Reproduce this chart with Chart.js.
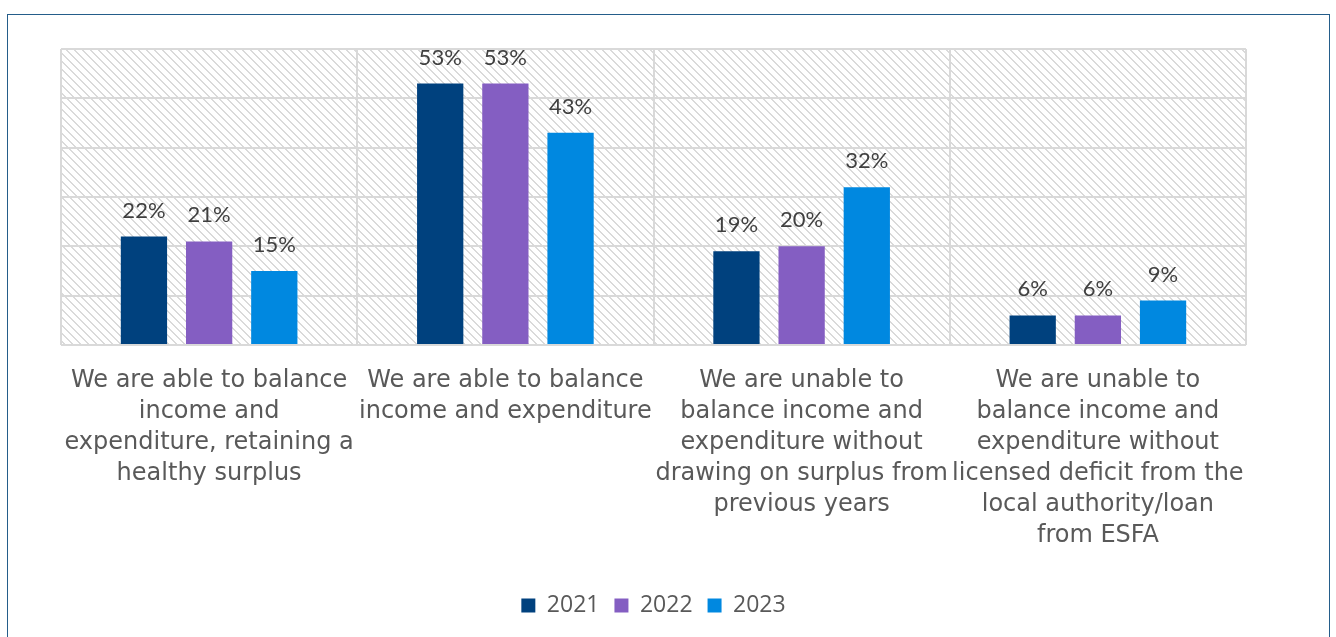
<!DOCTYPE html>
<html>
<head>
<meta charset="utf-8">
<script src="https://cdn.jsdelivr.net/npm/chart.js@4/dist/chart.umd.min.js"></script>
<style>
  html, body { margin: 0; padding: 0; background: #fff; }
  .frame {
    position: absolute; left: 7px; top: 14px; width: 1323px; height: 640px;
    border: 1px solid #245d8a; box-sizing: border-box;
  }
  #wrap { position: absolute; left: 0; top: 0; width: 1336px; height: 637px; }
</style>
</head>
<body>
<div class="frame"></div>
<div id="wrap"><canvas id="chart"></canvas></div>
<script>
const CATEGORIES = [
  ['We are able to balance', 'income and', 'expenditure, retaining a', 'healthy surplus'],
  ['We are able to balance', 'income and expenditure'],
  ['We are unable to', 'balance income and', 'expenditure without', 'drawing on surplus from', 'previous years'],
  ['We are unable to', 'balance income and', 'expenditure without', 'licensed deficit from the', 'local authority/loan', 'from ESFA'],
];
const YEARS = ['2021', '2022', '2023'];
const VALUES_2021 = [22, 53, 19, 6];
const VALUES_2022 = [21, 53, 20, 6];
const VALUES_2023 = [15, 43, 32, 9];
const COLORS = ['#00417e', '#845ec2', '#0088e0'];

// light diagonal hatch used behind the bars
function makeHatch() {
  const c = document.createElement('canvas');
  c.width = 8; c.height = 8;
  const g = c.getContext('2d');
  g.fillStyle = '#fff';
  g.fillRect(0, 0, 8, 8);
  g.fillStyle = '#dadada';
  for (let i = 0; i < 8; i++) {
    g.fillRect(i, i, 2, 1);
    if (i === 7) g.fillRect(0, 7, 1, 1);
  }
  return g.createPattern(c, 'repeat');
}

const hatchBg = {
  id: 'hatchBg',
  beforeDraw(chart) {
    const { ctx, chartArea: a } = chart;
    ctx.save();
    ctx.fillStyle = makeHatch();
    ctx.fillRect(a.left, a.top, a.right - a.left, a.bottom - a.top);
    ctx.restore();
  }
};

const valueLabels = {
  id: 'valueLabels',
  afterDatasetsDraw(chart) {
    const ctx = chart.ctx;
    ctx.save();
    ctx.font = '22px Lato, "Liberation Sans", sans-serif';
    ctx.fillStyle = '#404040';
    ctx.textAlign = 'center';
    ctx.textBaseline = 'middle';
    chart.data.datasets.forEach((ds, i) => {
      chart.getDatasetMeta(i).data.forEach((bar, j) => {
        ctx.fillText(ds.data[j] + '%', bar.x, bar.y - 26);
      });
    });
    ctx.restore();
  }
};

const datasets = [VALUES_2021, VALUES_2022, VALUES_2023].map((vals, i) => ({
  label: YEARS[i],
  data: vals,
  backgroundColor: COLORS[i],
  categoryPercentage: 0.66,
  barPercentage: 0.71,
}));

new Chart(document.getElementById('chart'), {
  type: 'bar',
  data: { labels: CATEGORIES, datasets },
  options: {
    responsive: true,
    maintainAspectRatio: false,
    animation: false,
    layout: { padding: { left: 61, right: 90, top: 49, bottom: 10 } },
    plugins: {
      tooltip: { enabled: false },
      legend: {
        position: 'bottom',
        labels: {
          boxWidth: 14,
          boxHeight: 14,
          padding: 15,
          color: '#595959',
          font: { size: 23, family: '"Open Sans", sans-serif' },
        },
      },
    },
    scales: {
      x: {
        grid: { color: '#d9d9d9', lineWidth: 2, drawTicks: false, offset: true },
        border: { display: false },
        afterFit(scale) { scale.height = 234; },
        ticks: {
          color: '#595959',
          maxRotation: 0,
          autoSkip: false,
          padding: 20,
          font: { size: 24, family: '"DejaVu Sans", sans-serif', lineHeight: 1.29 },
        },
      },
      y: {
        min: 0,
        max: 60,
        ticks: { display: false, stepSize: 10 },
        grid: { color: '#d9d9d9', lineWidth: 2, drawTicks: false },
        border: { display: false },
      },
    },
  },
  plugins: [hatchBg, valueLabels],
});
</script>
</body>
</html>
